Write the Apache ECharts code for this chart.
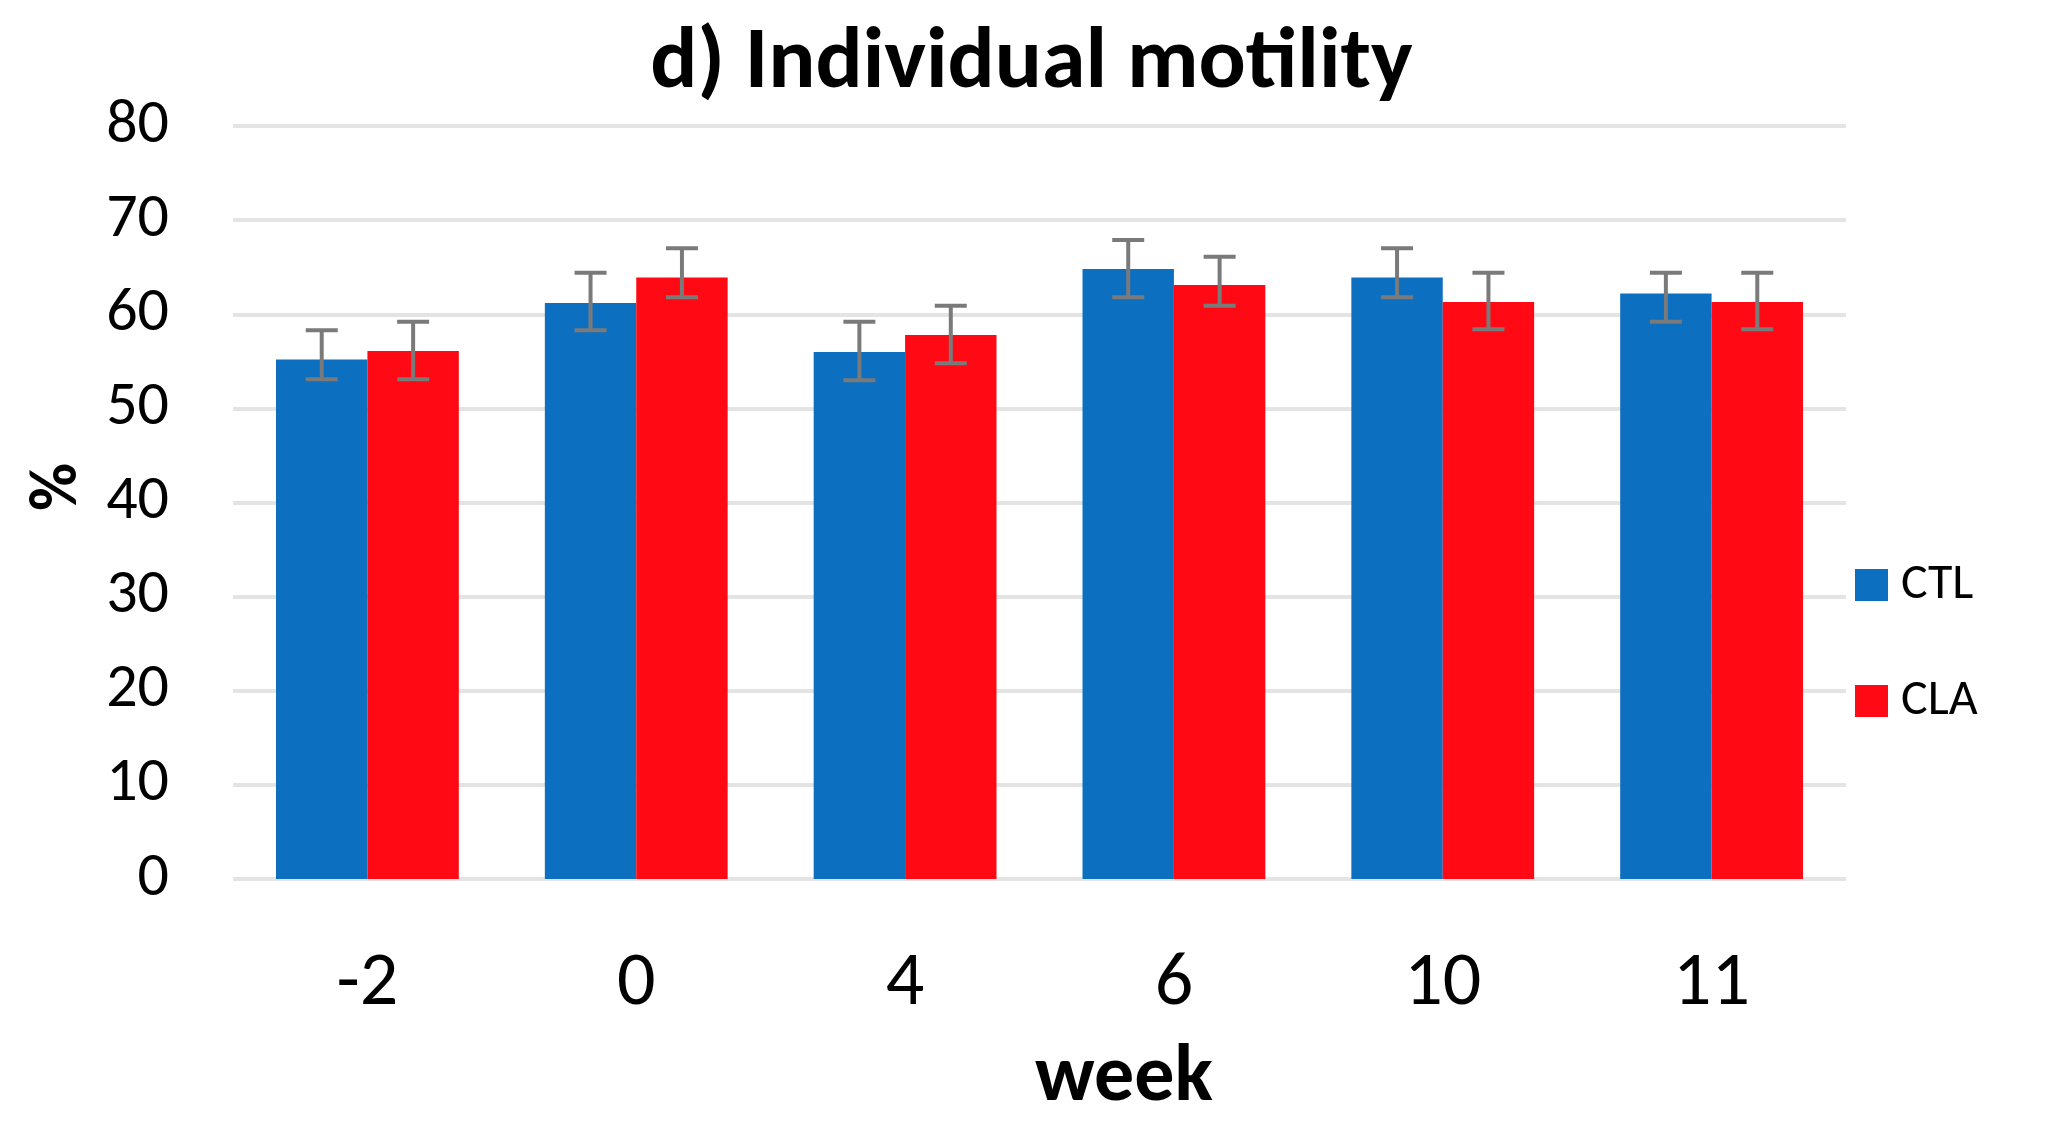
<!DOCTYPE html>
<html>
<head>
<meta charset="utf-8">
<script src="https://cdn.jsdelivr.net/npm/echarts@6/dist/echarts.min.js"></script>
<style>
html,body{margin:0;padding:0;background:#fff;}
#chart{width:2063px;height:1131px;}
</style>
</head>
<body>
<div id="chart"></div>
<script>
const weeks = ['-2', '0', '4', '6', '10', '11'];
const ctlValues = [55.2, 61.2, 56.0, 64.8, 63.9, 62.2];
const ctlErrLow = [53.1, 58.3, 53.0, 61.8, 61.8, 59.2];
const ctlErrHigh = [58.3, 64.4, 59.2, 67.9, 67.0, 64.4];
const claValues = [56.1, 63.9, 57.8, 63.1, 61.3, 61.3];
const claErrLow = [53.1, 61.8, 54.8, 60.9, 58.4, 58.4];
const claErrHigh = [59.2, 67.0, 60.9, 66.1, 64.4, 64.4];
const yTicks = [0, 10, 20, 30, 40, 50, 60, 70, 80];

const FONT = 'Carlito, Lato, sans-serif';
const BAR_FRAC = 0.34;

function errData(lo, hi) {
  return lo.map((v, i) => [i, v, hi[i]]);
}
function errRenderer(sign) {
  return function (params, api) {
    const i = api.value(0);
    const band = api.size([1, 0])[0];
    const off = sign * band * BAR_FRAC / 2;
    const pLo = api.coord([i, api.value(1)]);
    const pHi = api.coord([i, api.value(2)]);
    const x = pLo[0] + off;
    const cap = 16;
    const st = { stroke: '#7a7a7a', lineWidth: 4 };
    return {
      type: 'group',
      children: [
        { type: 'line', shape: { x1: x, y1: pLo[1], x2: x, y2: pHi[1] }, style: st },
        { type: 'line', shape: { x1: x - cap, y1: pLo[1], x2: x + cap, y2: pLo[1] }, style: st },
        { type: 'line', shape: { x1: x - cap, y1: pHi[1], x2: x + cap, y2: pHi[1] }, style: st }
      ]
    };
  };
}

const chart = echarts.init(document.getElementById('chart'));
chart.setOption({
  backgroundColor: '#ffffff',
  animation: false,
  title: {
    text: 'd) Individual motility',
    left: 'center',
    top: 16,
    textStyle: { fontFamily: FONT, fontSize: 88, fontWeight: 'bold', color: '#000' }
  },
  legend: {
    orient: 'vertical',
    left: 1850,
    top: 555,
    itemWidth: 33,
    itemHeight: 32,
    itemGap: 66,
    icon: 'rect',
    data: ['CTL', 'CLA'],
    textStyle: { fontFamily: FONT, fontSize: 50, color: '#000', lineHeight: 50, padding: [0, 0, 0, 8] }
  },
  grid: { left: 233, right: 217, top: 126, bottom: 252, containLabel: false },
  xAxis: {
    type: 'category',
    data: weeks,
    axisLine: { show: false },
    axisTick: { show: false },
    axisLabel: { fontFamily: FONT, fontSize: 76, color: '#000', margin: 68 }
  },
  yAxis: {
    type: 'value',
    min: yTicks[0],
    max: yTicks[yTicks.length - 1],
    interval: 10,
    axisLine: { show: false },
    axisTick: { show: false },
    axisLabel: { fontFamily: FONT, fontSize: 62, color: '#000', margin: 64 },
    splitLine: { lineStyle: { color: '#e4e4e4', width: 4 } }
  },
  graphic: [
    {
      type: 'text', left: 26, top: 463, rotation: Math.PI / 2,
      originX: 0, originY: 0,
      style: { text: '%', fontFamily: FONT, fontSize: 66, fontWeight: 'bold', fill: '#000' }
    },
    {
      type: 'text',
      style: { x: 1124, y: 1080, text: 'week', textAlign: 'center', textVerticalAlign: 'middle',
        fontFamily: FONT, fontSize: 80, fontWeight: 'bold', fill: '#000' }
    }
  ],
  series: [
    { name: 'CTL', type: 'bar', data: ctlValues, barWidth: (BAR_FRAC * 100) + '%', barGap: '0%',
      itemStyle: { color: '#0c6fc0' } },
    { name: 'CLA', type: 'bar', data: claValues, barWidth: (BAR_FRAC * 100) + '%', barGap: '0%',
      itemStyle: { color: '#ff0a14' } },
    { type: 'custom', renderItem: errRenderer(-1), data: errData(ctlErrLow, ctlErrHigh), z: 10,
      encode: { x: 0, y: [1, 2] } },
    { type: 'custom', renderItem: errRenderer(1), data: errData(claErrLow, claErrHigh), z: 10,
      encode: { x: 0, y: [1, 2] } }
  ]
});
</script>
</body>
</html>
